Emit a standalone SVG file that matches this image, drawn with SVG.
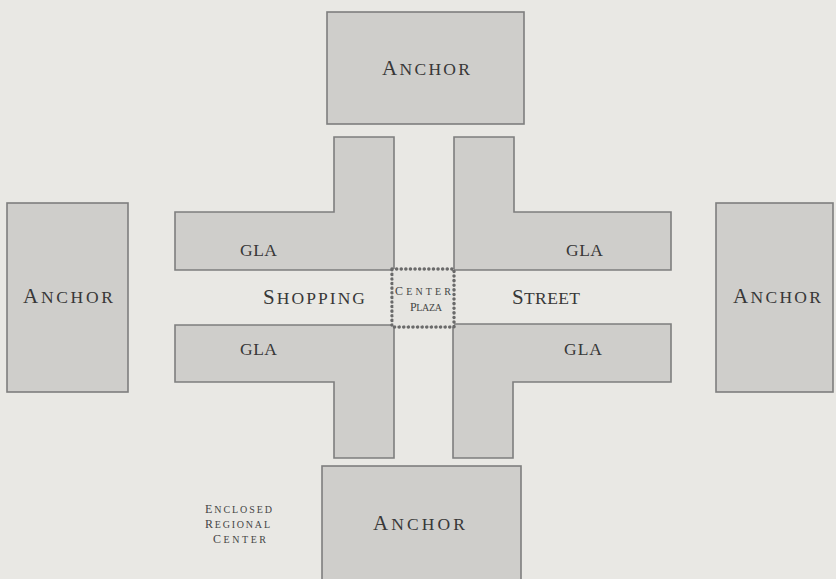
<svg xmlns="http://www.w3.org/2000/svg" width="836" height="579" viewBox="0 0 836 579">
<style>
.box{fill:#cfcecb;stroke:#7e7e7e;stroke-width:1.6}
.t{font-family:"Liberation Serif","DejaVu Serif",serif;fill:#383838;font-size:17.5px}
.big{font-size:21px}
.s{font-family:"Liberation Serif","DejaVu Serif",serif;fill:#454545;font-size:10px}
.sb{font-size:12px}
</style>
<rect x="0" y="0" width="836" height="579" fill="#e9e8e4"/>
<g id="anchor-top">
<rect class="box" x="327" y="12" width="197" height="112"/>
<text class="t" x="382" y="75" textLength="88" lengthAdjust="spacing"><tspan class="big">A</tspan>NCHOR</text>
</g>
<g id="anchor-left">
<rect class="box" x="7" y="203" width="121" height="189"/>
<text class="t" x="23" y="303" textLength="90" lengthAdjust="spacing"><tspan class="big">A</tspan>NCHOR</text>
</g>
<g id="anchor-right">
<rect class="box" x="716" y="203" width="117" height="189"/>
<text class="t" x="733" y="303" textLength="88" lengthAdjust="spacing"><tspan class="big">A</tspan>NCHOR</text>
</g>
<g id="anchor-bottom">
<rect class="box" x="322" y="466" width="199" height="120"/>
<text class="t" x="373" y="530" textLength="92" lengthAdjust="spacing"><tspan class="big">A</tspan>NCHOR</text>
</g>
<g id="gla-top-left">
<path class="box" d="M175,212 H334 V137 H394 V270 H175 Z"/>
<text class="t" x="240" y="256" textLength="37" lengthAdjust="spacing">GLA</text>
</g>
<g id="gla-top-right">
<path class="box" d="M454,137 H514 V212 H671 V270 H454 Z"/>
<text class="t" x="566" y="256" textLength="37" lengthAdjust="spacing">GLA</text>
</g>
<g id="gla-bottom-left">
<path class="box" d="M175,325 H394 V458 H334 V382 H175 Z"/>
<text class="t" x="240" y="355" textLength="37" lengthAdjust="spacing">GLA</text>
</g>
<g id="gla-bottom-right">
<path class="box" d="M453,324 H671 V382 H513 V458 H453 Z"/>
<text class="t" x="564" y="355" textLength="38" lengthAdjust="spacing">GLA</text>
</g>
<g id="shopping-street">
<text class="t" x="263" y="304" textLength="102" lengthAdjust="spacing"><tspan class="big">S</tspan>HOPPING</text>
<text class="t" x="512" y="304" textLength="68" lengthAdjust="spacing"><tspan class="big">S</tspan>TREET</text>
</g>
<g id="center-plaza">
<rect x="392" y="269" width="62" height="58" fill="#e6e5e1" stroke="#6a6a6a" stroke-width="3.5" stroke-dasharray="0.1 4.5" stroke-linecap="round"/>
<rect x="394" y="271" width="58" height="54" fill="none" stroke="#e6e5e1" stroke-width="1.2" stroke-dasharray="0.1 4.5" stroke-linecap="round"/>
<text class="s" x="395" y="295" textLength="56" lengthAdjust="spacing"><tspan class="sb">C</tspan>ENTER</text>
<text class="s" x="410" y="311" textLength="32" lengthAdjust="spacing"><tspan class="sb">P</tspan>LAZA</text>
</g>
<g id="caption">
<text class="s" x="205" y="513" textLength="67" lengthAdjust="spacing"><tspan class="sb">E</tspan>NCLOSED</text>
<text class="s" x="205" y="528" textLength="65" lengthAdjust="spacing"><tspan class="sb">R</tspan>EGIONAL</text>
<text class="s" x="213" y="543" textLength="53" lengthAdjust="spacing"><tspan class="sb">C</tspan>ENTER</text>
</g>
</svg>
